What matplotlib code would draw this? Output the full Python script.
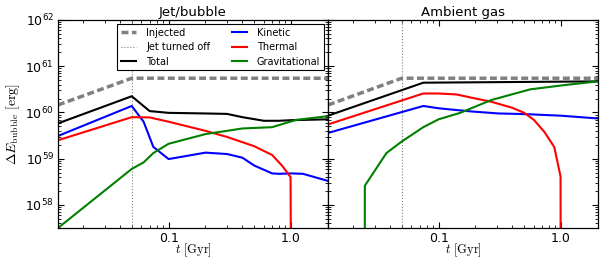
import matplotlib
matplotlib.use('Agg')
import matplotlib.pyplot as plt
from matplotlib.ticker import LogLocator, FuncFormatter, NullFormatter

plt.rcParams['font.family'] = ['DejaVu Sans']
plt.rcParams['mathtext.fontset'] = 'cm'

# Jet/bubble panel
t_inj = [0.0125, 0.05, 2.0]
e_inj = [1.45e60, 5.5e60, 5.5e60]
t_jet_off = 0.05

t_tot_jet = [0.0125, 0.05, 0.07, 0.1, 0.2, 0.3, 0.4, 0.6, 0.8, 1.0, 2.0]
e_tot_jet = [5.8e59, 2.24e60, 1.07e60, 9.8e59, 9.5e59, 9.3e59, 7.9e59, 6.6e59, 6.6e59, 6.8e59, 7.1e59]

t_kin_jet = [0.0125, 0.05, 0.0625, 0.075, 0.1, 0.2, 0.3, 0.4, 0.5, 0.7, 0.8, 1.0, 1.25, 2.0]
e_kin_jet = [3.1e59, 1.38e60, 6.3e59, 1.8e59, 9.8e58, 1.35e59, 1.26e59, 1.05e59, 7.1e58,
             4.8e58, 4.7e58, 4.8e58, 4.7e58, 3.3e58]

t_th_jet = [0.0125, 0.05, 0.07, 0.1, 0.2, 0.3, 0.5, 0.7, 0.85, 0.99, 1.02]
e_th_jet = [2.5e59, 7.9e59, 7.8e59, 6.3e59, 4.0e59, 2.95e59, 1.86e59, 1.2e59, 6.9e58, 4.0e58, 1e50]

t_gr_jet = [0.0125, 0.05, 0.0625, 0.075, 0.1, 0.2, 0.3, 0.4, 0.7, 1.1, 2.0]
e_gr_jet = [3.16e57, 6.0e58, 8.3e58, 1.32e59, 2.1e59, 3.4e59, 4.0e59, 4.5e59, 4.8e59, 6.9e59, 8.3e59]

# Ambient gas panel
t_tot_amb = [0.0125, 0.075, 2.0]
e_tot_amb = [8.5e59, 4.4e60, 4.7e60]

t_kin_amb = [0.0125, 0.075, 0.1, 0.185, 0.31, 0.44, 0.56, 1.0, 2.0]
e_kin_amb = [3.6e59, 1.38e60, 1.23e60, 1.05e60, 9.5e59, 9.3e59, 9.1e59, 8.5e59, 7.4e59]

t_th_amb = [0.0125, 0.075, 0.1, 0.14, 0.2, 0.27, 0.4, 0.5, 0.6, 0.73, 0.88, 0.99, 1.0]
e_th_amb = [5.5e59, 2.57e60, 2.57e60, 2.45e60, 2.0e60, 1.7e60, 1.26e60, 9.8e59, 6.9e59,
            3.8e59, 1.78e59, 4.1e58, 1e50]

t_gr_amb = [0.0249, 0.025, 0.0375, 0.05, 0.075, 0.1, 0.15, 0.27, 0.56, 1.06, 2.0]
e_gr_amb = [1e50, 2.6e58, 1.32e59, 2.35e59, 4.8e59, 7.1e59, 9.8e59, 1.86e60, 3.16e60, 3.9e60, 4.7e60]

fig, (ax1, ax2) = plt.subplots(1, 2, sharey=True, figsize=(6.04, 2.59), dpi=100)
fig.subplots_adjust(left=0.096, right=0.990, bottom=0.1197, top=0.9228, wspace=0)

panels = [
    (ax1, 'Jet/bubble', t_tot_jet, e_tot_jet, t_kin_jet, e_kin_jet, t_th_jet, e_th_jet, t_gr_jet, e_gr_jet),
    (ax2, 'Ambient gas', t_tot_amb, e_tot_amb, t_kin_amb, e_kin_amb, t_th_amb, e_th_amb, t_gr_amb, e_gr_amb),
]

for ax, title, tt, et, tk, ek, tth, eth, tg, eg in panels:
    ax.plot(t_inj, e_inj, color='gray', lw=2.5, dashes=(2, 1), label='Injected')
    ax.axvline(t_jet_off, color='gray', lw=0.8, ls=':', label='Jet turned off')
    ax.plot(tt, et, color='k', lw=1.5, label='Total')
    ax.plot(tk, ek, color='b', lw=1.5, label='Kinetic')
    ax.plot(tth, eth, color='r', lw=1.5, label='Thermal')
    ax.plot(tg, eg, color='g', lw=1.5, label='Gravitational')

    ax.set_xscale('log')
    ax.set_yscale('log')
    ax.set_xlim(0.0125, 2.0)
    ax.set_ylim(10**57.5, 1e62)
    ax.set_title(title, fontsize=9.5, pad=3)
    ax.set_xlabel(r'$t\ [{\rm Gyr}]$', fontsize=9, labelpad=-3)

    ax.xaxis.set_major_locator(LogLocator(base=10))
    ax.xaxis.set_minor_locator(LogLocator(base=10, subs=range(2, 10)))
    ax.xaxis.set_major_formatter(FuncFormatter(lambda v, p: '%.1f' % v))
    ax.xaxis.set_minor_formatter(NullFormatter())
    ax.yaxis.set_major_locator(LogLocator(base=10, numticks=20))
    ax.yaxis.set_minor_locator(LogLocator(base=10, subs=range(2, 10), numticks=20))
    ax.yaxis.set_minor_formatter(NullFormatter())
    ax.tick_params(which='both', direction='in', top=True, right=True, labelsize=9, pad=3)
    ax.tick_params(which='major', length=4.5, width=0.8)
    ax.tick_params(which='minor', length=2.3, width=0.6)
    for s in ax.spines.values():
        s.set_linewidth(0.9)

ax2.tick_params(labelleft=False)
ax1.set_ylabel(r'$\Delta E_{\rm bubble}\ [{\rm erg}]$', fontsize=10, labelpad=2)

leg = ax1.legend(loc='upper right', ncol=2, fontsize=7, handlelength=1.6, handletextpad=1.0,
                 columnspacing=2.2, labelspacing=0.45, borderaxespad=0.4, fancybox=False,
                 framealpha=1)
leg.get_frame().set_edgecolor('k')
leg.get_frame().set_linewidth(0.8)

plt.savefig('out.png', dpi=100)
